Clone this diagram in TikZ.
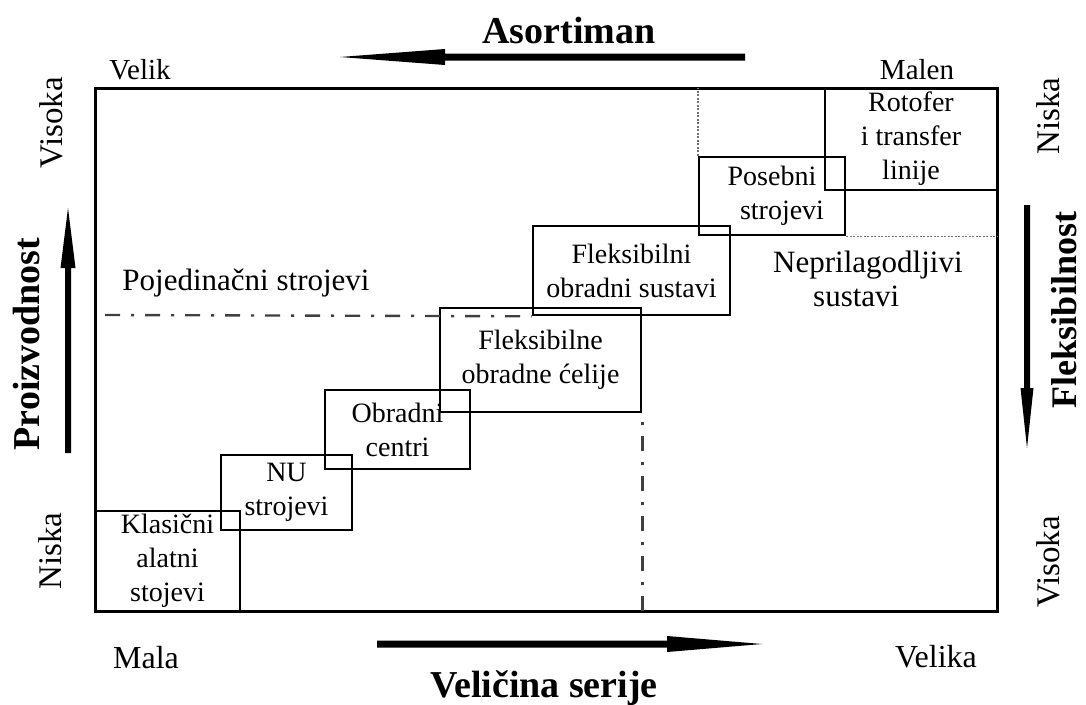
\documentclass[tikz,border=0pt]{standalone}
\usepackage{fontspec}
\setmainfont{Liberation Serif}
\begin{document}
\begin{tikzpicture}[x=1pt,y=-1pt,
  frame/.style={line width=3pt},
  box/.style={draw, line width=2.6pt, inner sep=0pt, align=center, font=\fontsize{28}{34}\selectfont},
  lbl/.style={inner sep=0pt, font=\fontsize{29}{34}\selectfont},
  biglbl/.style={inner sep=0pt, font=\fontsize{32}{36}\selectfont},
  rotlbl/.style={inner sep=0pt, rotate=90, font=\fontsize{33}{36}\selectfont},
  title/.style={inner sep=0pt, font=\fontsize{38}{42}\selectfont\bfseries},
  zone/.style={inner sep=0pt, font=\fontsize{31}{35}\selectfont},
  dashdot/.style={line width=2.4pt, black!75, dash pattern=on 15pt off 11pt on 3pt off 11pt},
  dotline/.style={line width=1.6pt, black!55, dash pattern=on 2pt off 1.5pt},
  arrowshape/.style={fill=black}
]
\useasboundingbox (0,0) rectangle (1086,704);

% frame
\draw[frame] (95,88) rectangle (997,611);
\coordinate (fTL) at (95,88);
\coordinate (fBR) at (997,611);

% boxes
\node[box, minimum width=145pt, minimum height=100pt] (kl) at (167.5,561) {Klasični\\alatni\\stojevi};
\node[box, minimum width=131pt, minimum height=75pt] (nu) at (286.5,492.5) {NU\\strojevi};
\node[box, minimum width=145pt, minimum height=79pt] (oc) at (397.5,429.5) {Obradni\\centri};
\node[box, minimum width=201pt, minimum height=104pt] (foc) at (540.5,360) {Fleksibilne\\obradne ćelije};
\node[box, minimum width=197pt, minimum height=89pt] (fos) at (631.5,270.5) {Fleksibilni\\obradni sustavi};
\node[box, minimum width=146pt, minimum height=78pt] (ps) at (772,196) {Posebni\\\hspace*{20pt}strojevi};
\node[box, minimum width=172pt, minimum height=102pt] (rt) at (911,139) {Rotofer\\i transfer\\linije};

% dash-dot and dotted boundaries
\coordinate (ddstart) at (105,315);
\draw[dashdot] (ddstart) -- (fos.south west);
\coordinate (ddend) at (foc.south east |- fBR);
\draw[dashdot] (ddend) -- (foc.south east);
\coordinate (dtop) at (ps.north west |- fTL);
\draw[dotline] (ps.north west) -- (dtop);
\coordinate (dright) at (ps.south east -| fBR);
\draw[dotline] (ps.south east) -- (dright);

% zone labels
\node[zone, anchor=base] (poj) at (246,290) {Pojedinačni strojevi};
\node[zone, anchor=north west, align=left] (nep) at (773,251) {Neprilagodljivi\\[-1pt]\hspace*{40pt}sustavi};

% corner labels
\node[lbl, anchor=base] (velik) at (140,79) {Velik};
\node[lbl, anchor=base] (malen) at (917,79) {Malen};
\node[biglbl, anchor=base] (mala) at (146,668) {Mala};
\node[biglbl, anchor=base] (velika) at (936,667) {Velika};
\node[rotlbl] (visL) at (51,123) {Visoka};
\node[rotlbl] (nisL) at (50,551) {Niska};
\node[rotlbl] (nisR) at (1048,116) {Niska};
\node[rotlbl] (visR) at (1048,562) {Visoka};

% axis titles
\node[title, anchor=base] (asort) at (569,43) {Asortiman};
\node[title, anchor=base] (velic) at (544,697) {Veličina serije};
\node[title, rotate=90] (proiz) at (27,344) {Proizvodnost};
\node[title, rotate=90, font=\fontsize{36}{40}\selectfont\bfseries] (fleks) at (1064,310) {Fleksibilnost};

% arrows (shaft + long tapered head)
\coordinate (atH) at (340,57);
\fill[arrowshape] (atH) -- (445,49) -- (445,53.5) -- (745,53.5) -- (745,60.5) -- (445,60.5) -- (445,65) -- cycle;
\coordinate (abH) at (762,644);
\fill[arrowshape] (abH) -- (667,636) -- (667,640.5) -- (377,640.5) -- (377,647.5) -- (667,647.5) -- (667,652) -- cycle;
\coordinate (auH) at (68,208);
\fill[arrowshape] (auH) -- (60.5,268) -- (65,268) -- (65,453) -- (71,453) -- (71,268) -- (75.5,268) -- cycle;
\coordinate (adH) at (1027,448);
\fill[arrowshape] (adH) -- (1020.5,388) -- (1024,388) -- (1024,205) -- (1030,205) -- (1030,388) -- (1033.5,388) -- cycle;
\end{tikzpicture}
\end{document}
